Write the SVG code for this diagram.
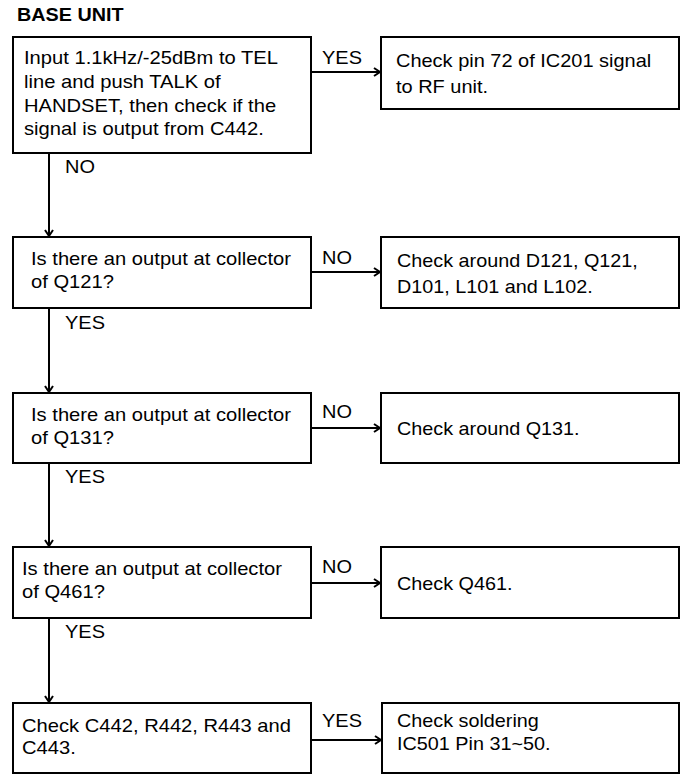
<svg xmlns="http://www.w3.org/2000/svg" width="684" height="774" viewBox="0 0 684 774">
  <defs>
    <style>
      .box { fill: #ffffff; stroke: #000000; stroke-width: 2; }
      .link { fill: none; stroke: #000000; stroke-width: 2; }
      .t { font-family: "Liberation Sans", Arial, Helvetica, sans-serif; font-size: 18px; fill: #000000; }
      .title { font-family: "Liberation Sans", Arial, Helvetica, sans-serif; font-size: 17.5px; font-weight: bold; fill: #000000; }
    </style>
    <marker id="arrow" markerWidth="10" markerHeight="10" refX="8" refY="5" orient="auto" markerUnits="userSpaceOnUse">
      <path d="M2,1 L8,5 L2,9" fill="none" stroke="#000000" stroke-width="2"/>
    </marker>
  </defs>
  <rect width="684" height="774" fill="#ffffff"/>

  <text class="title" transform="matrix(1.13 0 0 1 17 21)">BASE UNIT</text>

  <!-- connectors and their branch labels -->
  <g id="connectors">
    <line class="link" x1="311" y1="72" x2="380" y2="72" marker-end="url(#arrow)"/>
    <line class="link" x1="49" y1="153" x2="49" y2="236" marker-end="url(#arrow)"/>
    <line class="link" x1="311" y1="272" x2="380" y2="272" marker-end="url(#arrow)"/>
    <line class="link" x1="49" y1="308" x2="49" y2="392" marker-end="url(#arrow)"/>
    <line class="link" x1="311" y1="428" x2="380" y2="428" marker-end="url(#arrow)"/>
    <line class="link" x1="49" y1="463" x2="49" y2="546" marker-end="url(#arrow)"/>
    <line class="link" x1="311" y1="583" x2="380" y2="583" marker-end="url(#arrow)"/>
    <line class="link" x1="49" y1="618" x2="49" y2="702" marker-end="url(#arrow)"/>
    <line class="link" x1="311" y1="740" x2="381" y2="740" marker-end="url(#arrow)"/>

    <text class="t" transform="matrix(1.11 0 0 1 322 64)">YES</text>
    <text class="t" transform="matrix(1.11 0 0 1 65 173)">NO</text>
    <text class="t" transform="matrix(1.11 0 0 1 322 264)">NO</text>
    <text class="t" transform="matrix(1.11 0 0 1 65 329)">YES</text>
    <text class="t" transform="matrix(1.11 0 0 1 322 418)">NO</text>
    <text class="t" transform="matrix(1.11 0 0 1 65 483)">YES</text>
    <text class="t" transform="matrix(1.11 0 0 1 322 573)">NO</text>
    <text class="t" transform="matrix(1.11 0 0 1 65 638)">YES</text>
    <text class="t" transform="matrix(1.11 0 0 1 322 727)">YES</text>
  </g>

  <g id="input-check">
    <rect class="box" x="13" y="37" width="298" height="116"/>
    <text class="t" transform="matrix(1.12 0 0 1 24 64)">Input 1.1kHz/-25dBm to TEL</text>
    <text class="t" transform="matrix(1.12 0 0 1 24 88)">line and push TALK of</text>
    <text class="t" transform="matrix(1.12 0 0 1 24 112)">HANDSET, then check if the</text>
    <text class="t" transform="matrix(1.12 0 0 1 24 135)">signal is output from C442.</text>
  </g>

  <g id="check-ic201">
    <rect class="box" x="381" y="37" width="298" height="72"/>
    <text class="t" transform="matrix(1.11 0 0 1 396 67)">Check pin 72 of IC201 signal</text>
    <text class="t" transform="matrix(1.11 0 0 1 396 93)">to RF unit.</text>
  </g>

  <g id="q121-output">
    <rect class="box" x="13" y="237" width="298" height="71"/>
    <text class="t" transform="matrix(1.12 0 0 1 31 265)">Is there an output at collector</text>
    <text class="t" transform="matrix(1.12 0 0 1 31 288)">of Q121?</text>
  </g>

  <g id="check-d121">
    <rect class="box" x="381" y="237" width="298" height="71"/>
    <text class="t" transform="matrix(1.1 0 0 1 397 267)">Check around D121, Q121,</text>
    <text class="t" transform="matrix(1.1 0 0 1 397 293)">D101, L101 and L102.</text>
  </g>

  <g id="q131-output">
    <rect class="box" x="13" y="393" width="298" height="70"/>
    <text class="t" transform="matrix(1.12 0 0 1 31 421)">Is there an output at collector</text>
    <text class="t" transform="matrix(1.12 0 0 1 31 444)">of Q131?</text>
  </g>

  <g id="check-q131">
    <rect class="box" x="381" y="393" width="298" height="70"/>
    <text class="t" transform="matrix(1.1 0 0 1 397 435)">Check around Q131.</text>
  </g>

  <g id="q461-output">
    <rect class="box" x="13" y="547" width="298" height="71"/>
    <text class="t" transform="matrix(1.12 0 0 1 22 575)">Is there an output at collector</text>
    <text class="t" transform="matrix(1.12 0 0 1 22 598)">of Q461?</text>
  </g>

  <g id="check-q461">
    <rect class="box" x="381" y="547" width="298" height="71"/>
    <text class="t" transform="matrix(1.1 0 0 1 397 590)">Check Q461.</text>
  </g>

  <g id="check-c442">
    <rect class="box" x="13" y="703" width="298" height="70"/>
    <text class="t" transform="matrix(1.12 0 0 1 22 732)">Check C442, R442, R443 and</text>
    <text class="t" transform="matrix(1.12 0 0 1 22 754)">C443.</text>
  </g>

  <g id="check-soldering">
    <rect class="box" x="382" y="703" width="297" height="70"/>
    <text class="t" transform="matrix(1.1 0 0 1 397 727)">Check soldering</text>
    <text class="t" transform="matrix(1.1 0 0 1 397 750)">IC501 Pin 31~50.</text>
  </g>
</svg>
